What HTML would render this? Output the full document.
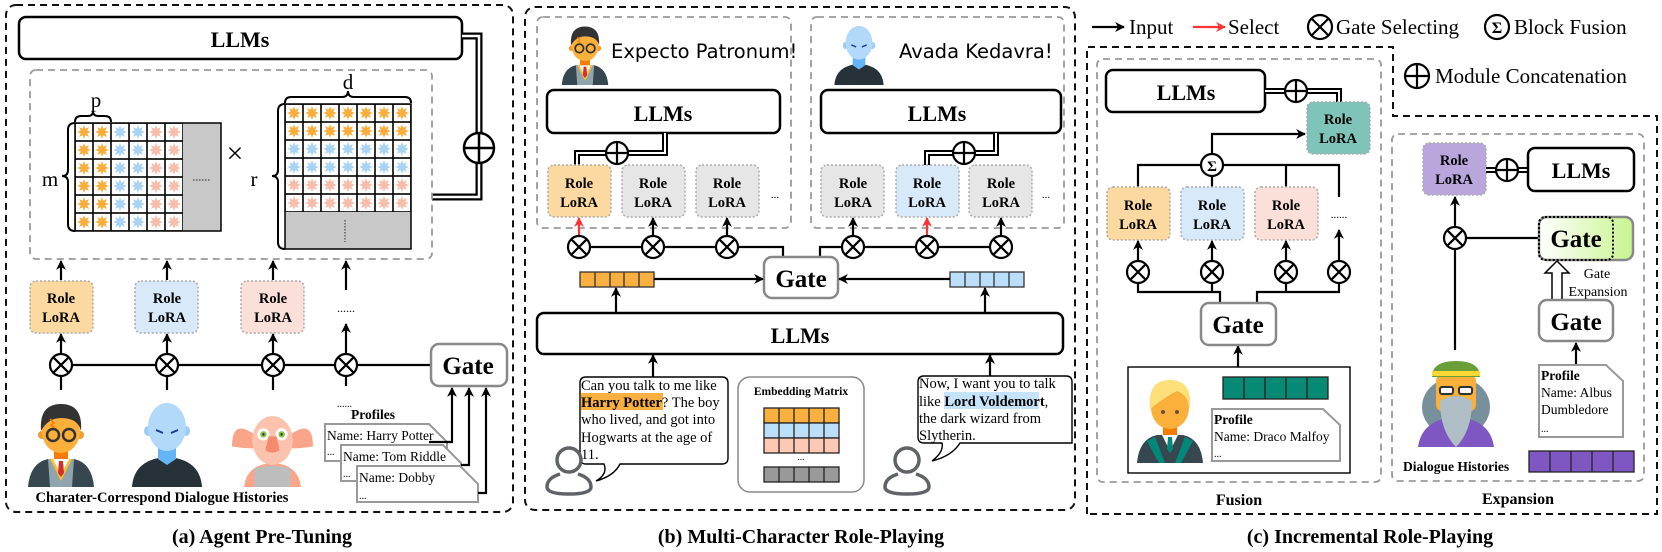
<!DOCTYPE html>
<html><head><meta charset="utf-8"><style>
html,body{margin:0;padding:0;background:#fff;}
svg{display:block;}
text{font-family:"Liberation Serif",serif;}
.b{font-weight:bold;}
</style></head><body>
<svg width="1662" height="552" viewBox="0 0 1662 552" xmlns="http://www.w3.org/2000/svg">
<defs>
<marker id="ah" viewBox="0 0 10 10" refX="9" refY="5" markerWidth="4.5" markerHeight="4.5" orient="auto-start-reverse"><path d="M0,0 L10,5 L0,10 L3,5Z" fill="#000"/></marker>
<marker id="ahr" viewBox="0 0 10 10" refX="9" refY="5" markerWidth="4.5" markerHeight="4.5" orient="auto"><path d="M0,0 L10,5 L0,10 L3,5Z" fill="#f33"/></marker>
<polygon id="star" points="7,0 3.3,1.37 4.95,4.95 1.37,3.3 0,7 -1.37,3.3 -4.95,4.95 -3.3,1.37 -7,0 -3.3,-1.37 -4.95,-4.95 -1.37,-3.3 0,-7 1.37,-3.3 4.95,-4.95 3.3,-1.37"/>
<pattern id="pO" width="18" height="18" patternUnits="userSpaceOnUse"><rect width="18" height="18" fill="#fff" stroke="#000" stroke-width="1.6"/><use href="#star" x="9" y="9" fill="#f9ae3b"/></pattern>
<pattern id="pB" width="18" height="18" patternUnits="userSpaceOnUse"><rect width="18" height="18" fill="#fff" stroke="#000" stroke-width="1.6"/><use href="#star" x="9" y="9" fill="#a8d3f5"/></pattern>
<pattern id="pP" width="18" height="18" patternUnits="userSpaceOnUse"><rect width="18" height="18" fill="#fff" stroke="#000" stroke-width="1.6"/><use href="#star" x="9" y="9" fill="#f8bcaa"/></pattern>
<linearGradient id="gg" x1="0" x2="1" y1="0" y2="0"><stop offset="0" stop-color="#fff"/><stop offset="1" stop-color="#c8f58e"/></linearGradient>
<symbol id="harry" viewBox="0 0 70 88">
<path d="M2,88 Q4,64 22,60 L48,60 Q66,64 68,88Z" fill="#37474f"/>
<path d="M22,60 L48,60 L46,88 L24,88Z" fill="#90a4ae"/>
<path d="M24,60 L35,82 L46,60Z" fill="#fbc02d"/>
<path d="M27,60 L35,76 L43,60Z" fill="#fff"/>
<path d="M33,62 L37,62 L38,74 L35,78 L32,74Z" fill="#d32f2f"/>
<rect x="28" y="46" width="14" height="14" fill="#f57c00"/>
<circle cx="16" cy="36" r="4" fill="#f59b2a"/><circle cx="54" cy="36" r="4" fill="#f59b2a"/>
<ellipse cx="35" cy="33" rx="19" ry="21" fill="#fbb03b"/>
<path d="M15,32 Q13,5 35,5 Q57,5 55,32 Q52,19 35,19 Q22,19 15,32Z" fill="#333"/>
<circle cx="27" cy="36" r="6" fill="none" stroke="#333" stroke-width="2.5"/><circle cx="43" cy="36" r="6" fill="none" stroke="#333" stroke-width="2.5"/>
<path d="M24,20 L28,24 L25,26 L29,29" stroke="#f57c00" stroke-width="1.5" fill="none"/>
</symbol>
<symbol id="vold" viewBox="0 0 70 88">
<path d="M0,88 Q2,60 35,58 Q68,60 70,88Z" fill="#263238"/>
<path d="M26,44 L44,44 L44,60 L35,66 L26,60Z" fill="#64b5f6"/>
<ellipse cx="16" cy="32" rx="4" ry="5" fill="#9ccbf5"/><ellipse cx="54" cy="32" rx="4" ry="5" fill="#9ccbf5"/>
<ellipse cx="35" cy="28" rx="19" ry="24" fill="#b3d9fa"/>
<path d="M24,31 L31,34 M46,31 L39,34" stroke="#1a3a8a" stroke-width="2"/>
</symbol>
<symbol id="dobby" viewBox="0 0 80 80">
<path d="M22,28 Q0,12 0,40 Q12,42 24,42Z" fill="#f9a58a"/><path d="M58,28 Q80,12 80,40 Q68,42 56,42Z" fill="#f9a58a"/>
<path d="M12,80 Q14,58 40,56 Q66,58 68,80Z" fill="#f9a58a"/>
<path d="M22,80 L22,62 Q40,56 58,62 L58,80Z" fill="#bdbdbd"/>
<ellipse cx="40" cy="34" rx="20" ry="24" fill="#fbc3ad"/>
<circle cx="31" cy="28" r="6" fill="#fff"/><circle cx="49" cy="28" r="6" fill="#fff"/>
<circle cx="31" cy="28" r="3.2" fill="#8bc34a"/><circle cx="49" cy="28" r="3.2" fill="#8bc34a"/>
<circle cx="31" cy="28" r="1.2" fill="#333"/><circle cx="49" cy="28" r="1.2" fill="#333"/>
<path d="M36,30 L44,30 L47,44 Q40,48 33,44Z" fill="#f48a6e"/>
</symbol>
<symbol id="draco" viewBox="0 0 70 88">
<path d="M2,88 Q4,64 22,60 L48,60 Q66,64 68,88Z" fill="#37474f"/>
<path d="M20,62 L30,88 L24,88 L12,66Z M50,62 L40,88 L46,88 L58,66Z" fill="#00897b"/>
<path d="M27,60 L35,76 L43,60Z" fill="#fff"/>
<path d="M33,62 L37,62 L38,74 L35,78 L32,74Z" fill="#00897b"/>
<rect x="28" y="46" width="14" height="14" fill="#f57c00"/>
<ellipse cx="35" cy="33" rx="19" ry="21" fill="#fbb03b"/>
<path d="M15,34 Q12,5 35,5 Q58,5 55,34 Q53,20 42,16 Q30,22 15,34Z" fill="#fde07a"/>
<circle cx="28" cy="37" r="2" fill="#6d4c41"/><circle cx="42" cy="37" r="2" fill="#6d4c41"/>
</symbol>
<symbol id="dumb" viewBox="0 0 76 86">
<ellipse cx="38" cy="46" rx="34" ry="30" fill="#78909c"/>
<path d="M0,86 Q4,58 38,56 Q72,58 76,86Z" fill="#7e57c2"/>
<rect x="18" y="14" width="40" height="36" rx="6" fill="#fbb03b"/>
<path d="M14,16 Q14,0 38,0 Q62,0 62,16Z" fill="#689f38"/>
<rect x="14" y="10" width="48" height="5" fill="#fdd835"/>
<rect x="22" y="26" width="13" height="7" rx="2" fill="#fff" stroke="#333" stroke-width="2"/><rect x="41" y="26" width="13" height="7" rx="2" fill="#fff" stroke="#333" stroke-width="2"/>
<path d="M22,40 Q38,30 54,40 Q54,70 38,86 Q22,70 22,40Z" fill="#b0bec5"/>
</symbol>
<symbol id="person" viewBox="0 0 48 52">
<circle cx="24" cy="16" r="12" fill="none" stroke="#5f6368" stroke-width="3.5"/>
<path d="M15,30 Q2,34 2,43 Q2,50 24,50 Q46,50 46,43 Q46,34 33,30" fill="none" stroke="#5f6368" stroke-width="3.5"/>
</symbol>
<g id="ot"><circle r="11" fill="#fff" stroke="#000" stroke-width="2.2"/><path d="M-7.8,-7.8 L7.8,7.8 M-7.8,7.8 L7.8,-7.8" stroke="#000" stroke-width="2.2"/></g>
<g id="op"><circle r="11" fill="#fff" stroke="#000" stroke-width="2.2"/><path d="M-11,0 L11,0 M0,-11 L0,11" stroke="#000" stroke-width="2.2"/></g>
</defs>

<!-- ================= PANEL A ================= -->
<rect x="6" y="5" width="507" height="507" rx="10" fill="none" stroke="#111" stroke-width="2" stroke-dasharray="7 5"/>
<rect x="19" y="17" width="443" height="42" rx="7" fill="#fff" stroke="#000" stroke-width="2.5"/>
<text x="240" y="47" text-anchor="middle" class="b" font-size="22">LLMs</text>
<path d="M462,36 L479,36 L479,197 L432,197" fill="none" stroke="#000" stroke-width="7"/>
<path d="M462,36 L479,36 L479,197 L432,197" fill="none" stroke="#fff" stroke-width="2.5"/>
<g transform="translate(479,148)"><circle r="15" fill="#fff" stroke="#000" stroke-width="2.5"/><path d="M-15,0 L15,0 M0,-15 L0,15" stroke="#000" stroke-width="2.5"/></g>
<rect x="30" y="70" width="402" height="189" rx="6" fill="none" stroke="#999" stroke-width="1.8" stroke-dasharray="7 5"/>
<g transform="translate(75,123)">
<rect x="0" y="0" width="36" height="108" fill="url(#pO)"/>
<rect x="36" y="0" width="36" height="108" fill="url(#pB)"/>
<rect x="72" y="0" width="36" height="108" fill="url(#pP)"/>
<rect x="108" y="0" width="38" height="108" fill="#c8c8c8"/>
<rect x="0" y="0" width="146" height="108" fill="none" stroke="#000" stroke-width="1.5"/>
<path d="M118,57 L136,57" stroke="#444" stroke-width="1.2" stroke-dasharray="1.5 1.5"/>
</g>
<path d="M75,123 Q68,123 68,130 L68,170 Q68,176 62,176 Q68,176 68,182 L68,224 Q68,231 75,231" fill="none" stroke="#000" stroke-width="2"/>
<path d="M75,122 Q75,116 81,116 L88,116 Q93,116 93,111 Q93,116 98,116 L105,116 Q111,116 111,122" fill="none" stroke="#000" stroke-width="2"/>
<text x="96" y="107" text-anchor="middle" font-size="21">p</text>
<text x="50" y="186" text-anchor="middle" font-size="21">m</text>
<text x="235" y="163" text-anchor="middle" font-size="30">×</text>
<g transform="translate(285,104)">
<rect x="0" y="0" width="126" height="36" fill="url(#pO)"/>
<rect x="0" y="36" width="126" height="36" fill="url(#pB)"/>
<rect x="0" y="72" width="126" height="36" fill="url(#pP)"/>
<rect x="0" y="108" width="126" height="37" fill="#c8c8c8"/>
<rect x="0" y="0" width="126" height="145" fill="none" stroke="#000" stroke-width="1.5"/>
<path d="M60,116 L60,138" stroke="#444" stroke-width="1.2" stroke-dasharray="1.5 1.5"/>
</g>
<path d="M285,103 Q285,97 291,97 L342,97 Q348,97 348,91 Q348,97 354,97 L405,97 Q411,97 411,103" fill="none" stroke="#000" stroke-width="2"/>
<path d="M285,104 Q278,104 278,111 L278,170 Q278,176 272,176 Q278,176 278,182 L278,242 Q278,249 285,249" fill="none" stroke="#000" stroke-width="2"/>
<text x="348" y="89" text-anchor="middle" font-size="21">d</text>
<text x="254" y="186" text-anchor="middle" font-size="21">r</text>
<g stroke="#000" stroke-width="2.2" marker-end="url(#ah)">
<line x1="61" y1="280" x2="61" y2="261"/><line x1="167" y1="280" x2="167" y2="261"/><line x1="273" y1="280" x2="273" y2="261"/><line x1="346" y1="290" x2="346" y2="261"/>
</g>
<rect x="30" y="281" width="63" height="52" rx="6" fill="#fcd9a0" stroke="#aaa" stroke-width="1.5" stroke-dasharray="2 2"/>
<rect x="135" y="281" width="63" height="52" rx="6" fill="#d8eafa" stroke="#aaa" stroke-width="1.5" stroke-dasharray="2 2"/>
<rect x="241" y="281" width="63" height="52" rx="6" fill="#fbe0da" stroke="#aaa" stroke-width="1.5" stroke-dasharray="2 2"/>
<g class="b" font-size="14.5" text-anchor="middle">
<text x="61" y="303">Role</text><text x="61" y="322">LoRA</text>
<text x="167" y="303">Role</text><text x="167" y="322">LoRA</text>
<text x="273" y="303">Role</text><text x="273" y="322">LoRA</text>
</g>
<text x="346" y="312" text-anchor="middle" font-size="12">......</text>
<line x1="61" y1="365" x2="430" y2="365" stroke="#000" stroke-width="2.2"/>
<g stroke="#000" stroke-width="2.2">
<line x1="61" y1="365" x2="61" y2="390"/><line x1="167" y1="365" x2="167" y2="390"/><line x1="273" y1="365" x2="273" y2="390"/><line x1="346" y1="365" x2="346" y2="386"/>
</g>
<g stroke="#000" stroke-width="2.2" marker-end="url(#ah)">
<line x1="61" y1="354" x2="61" y2="334"/><line x1="167" y1="354" x2="167" y2="334"/><line x1="273" y1="354" x2="273" y2="334"/><line x1="346" y1="354" x2="346" y2="324"/>
</g>
<use href="#ot" x="61" y="365"/><use href="#ot" x="167" y="365"/><use href="#ot" x="273" y="365"/><use href="#ot" x="346" y="365"/>
<rect x="431" y="344" width="76" height="42" rx="8" fill="#fff" stroke="#888" stroke-width="2.5"/>
<text x="468" y="374" text-anchor="middle" class="b" font-size="25">Gate</text>
<use href="#harry" x="26" y="399" width="70" height="88"/>
<use href="#vold" x="132" y="399" width="70" height="88"/>
<use href="#dobby" x="232" y="406" width="81" height="81"/>
<text x="162" y="502" text-anchor="middle" class="b" font-size="14.5">Charater-Correspond Dialogue Histories</text>
<text x="337" y="407" font-size="10">......</text>
<text x="351" y="419" class="b" font-size="13.5">Profiles</text>
<g fill="#fff" stroke="#999" stroke-width="2">
<path d="M325,424 L429,424 L447,442 L447,461 L325,461Z"/>
<path d="M341,445 L443,445 L461,463 L461,481 L341,481Z"/>
<path d="M357,466 L460,466 L478,484 L478,502 L357,502Z"/>
</g>
<g font-size="13.5">
<text x="327" y="440">Name: Harry Potter</text><text x="327" y="455" font-size="10">...</text>
<text x="343" y="461">Name: Tom Riddle</text><text x="343" y="477" font-size="10">...</text>
<text x="359" y="482">Name: Dobby</text><text x="359" y="499" font-size="10">...</text>
</g>
<g fill="none" stroke="#000" stroke-width="2.2" marker-end="url(#ah)">
<path d="M429,442 L452,442 L452,388"/><path d="M461,465 L469,465 L469,388"/><path d="M478,493 L486,493 L486,388"/>
</g>
<text x="262" y="543" text-anchor="middle" class="b" font-size="20">(a) Agent Pre-Tuning</text>

<!-- ================= PANEL B ================= -->
<rect x="525" y="7" width="550" height="503" rx="10" fill="none" stroke="#111" stroke-width="2" stroke-dasharray="7 5"/>
<rect x="537" y="17" width="254" height="211" rx="6" fill="none" stroke="#999" stroke-width="1.8" stroke-dasharray="7 5"/>
<rect x="811" y="17" width="253" height="211" rx="6" fill="none" stroke="#999" stroke-width="1.8" stroke-dasharray="7 5"/>
<use href="#harry" x="560" y="23" width="50" height="62"/>
<use href="#vold" x="834" y="23" width="50" height="62"/>
<text x="611" y="58" font-size="19.5" style="font-family:'DejaVu Sans',sans-serif">Expecto Patronum!</text>
<text x="899" y="58" font-size="19.5" style="font-family:'DejaVu Sans',sans-serif">Avada Kedavra!</text>
<rect x="547" y="90" width="233" height="43" rx="7" fill="#fff" stroke="#000" stroke-width="2.5"/>
<text x="663" y="121" text-anchor="middle" class="b" font-size="22">LLMs</text>
<rect x="821" y="90" width="240" height="43" rx="7" fill="#fff" stroke="#000" stroke-width="2.5"/>
<text x="937" y="121" text-anchor="middle" class="b" font-size="22">LLMs</text>
<g fill="none">
<path d="M665,133 L665,153 L577,153 L577,165" stroke="#000" stroke-width="6"/>
<path d="M665,133 L665,153 L577,153 L577,165" stroke="#fff" stroke-width="2"/>
<path d="M996,133 L996,153 L927,153 L927,165" stroke="#000" stroke-width="6"/>
<path d="M996,133 L996,153 L927,153 L927,165" stroke="#fff" stroke-width="2"/>
</g>
<use href="#op" x="617" y="153"/><use href="#op" x="964" y="153"/>
<g stroke="#aaa" stroke-width="1.5" stroke-dasharray="2 2">
<rect x="548" y="165" width="63" height="52" rx="6" fill="#fcd9a0"/>
<rect x="622" y="165" width="63" height="52" rx="6" fill="#e6e6e6"/>
<rect x="696" y="165" width="63" height="52" rx="6" fill="#e6e6e6"/>
<rect x="821" y="165" width="63" height="52" rx="6" fill="#e6e6e6"/>
<rect x="896" y="165" width="63" height="52" rx="6" fill="#d8eafa"/>
<rect x="969" y="165" width="63" height="52" rx="6" fill="#e6e6e6"/>
</g>
<g class="b" font-size="14.5" text-anchor="middle">
<text x="579" y="188">Role</text><text x="579" y="207">LoRA</text>
<text x="653" y="188">Role</text><text x="653" y="207">LoRA</text>
<text x="727" y="188">Role</text><text x="727" y="207">LoRA</text>
<text x="853" y="188">Role</text><text x="853" y="207">LoRA</text>
<text x="927" y="188">Role</text><text x="927" y="207">LoRA</text>
<text x="1001" y="188">Role</text><text x="1001" y="207">LoRA</text>
</g>
<text x="775" y="198" text-anchor="middle" font-size="11">...</text>
<text x="1046" y="198" text-anchor="middle" font-size="11">...</text>
<path d="M579,247 L783,247 L783,257 M820,257 L820,247 L1001,247" fill="none" stroke="#000" stroke-width="2.2"/>
<g stroke="#000" stroke-width="2.2" marker-end="url(#ah)">
<line x1="653" y1="237" x2="653" y2="218"/><line x1="727" y1="237" x2="727" y2="218"/><line x1="853" y1="237" x2="853" y2="218"/><line x1="1001" y1="237" x2="1001" y2="218"/>
</g>
<g stroke="#f33" stroke-width="2.2" marker-end="url(#ahr)">
<line x1="579" y1="237" x2="579" y2="218"/><line x1="927" y1="237" x2="927" y2="218"/>
</g>
<use href="#ot" x="579" y="247"/><use href="#ot" x="653" y="247"/><use href="#ot" x="727" y="247"/>
<use href="#ot" x="853" y="247"/><use href="#ot" x="927" y="247"/><use href="#ot" x="1001" y="247"/>
<rect x="764" y="257" width="74" height="41" rx="8" fill="#fff" stroke="#888" stroke-width="2.5"/>
<text x="801" y="287" text-anchor="middle" class="b" font-size="25">Gate</text>
<g stroke="#333" stroke-width="1.3">
<rect x="580" y="272" width="74" height="15" fill="#f9b040"/>
<path d="M595,272 V287 M610,272 V287 M624,272 V287 M639,272 V287"/>
<rect x="950" y="272" width="74" height="15" fill="#bcdff9"/>
<path d="M965,272 V287 M980,272 V287 M994,272 V287 M1009,272 V287"/>
</g>
<g stroke="#000" stroke-width="2.2" marker-end="url(#ah)">
<line x1="654" y1="279" x2="763" y2="279"/><line x1="950" y1="279" x2="839" y2="279"/>
<line x1="616" y1="313" x2="616" y2="288"/><line x1="985" y1="313" x2="985" y2="288"/>
<line x1="653" y1="377" x2="653" y2="355"/><line x1="990" y1="376" x2="990" y2="355"/>
</g>
<rect x="537" y="313" width="526" height="41" rx="7" fill="#fff" stroke="#000" stroke-width="2.5"/>
<text x="800" y="343" text-anchor="middle" class="b" font-size="22">LLMs</text>
<path d="M586,377 L722,377 Q728,377 728,383 L728,458 Q728,464 722,464 L620,464 Q614,476 596,481 Q608,474 604,464 L586,464 Q580,464 580,458 L580,383 Q580,377 586,377Z" fill="#fff" stroke="#000" stroke-width="1.4"/>
<rect x="581" y="393" width="82" height="17" fill="#f9b040"/>
<g font-size="14.5">
<text x="581" y="390">Can you talk to me like</text>
<text x="581" y="407"><tspan font-weight="bold">Harry Potter</tspan>? The boy</text>
<text x="581" y="424">who lived, and got into</text>
<text x="581" y="442">Hogwarts at the age of</text>
<text x="581" y="459">11.</text>
</g>
<use href="#person" x="545" y="444" width="48" height="52"/>
<rect x="738" y="377" width="126" height="115" rx="12" fill="#fff" stroke="#888" stroke-width="1.5"/>
<text x="801" y="395" text-anchor="middle" class="b" font-size="11.5">Embedding Matrix</text>
<g stroke="#222" stroke-width="1.3">
<rect x="764" y="408" width="75" height="15" fill="#f9b040"/>
<rect x="764" y="423" width="75" height="15" fill="#bcdff9"/>
<rect x="764" y="438" width="75" height="15" fill="#fdc9b5"/>
<rect x="764" y="467" width="75" height="15" fill="#999"/>
<path d="M779,408 V453 M794,408 V453 M809,408 V453 M824,408 V453 M779,467 V482 M794,467 V482 M809,467 V482 M824,467 V482"/>
</g>
<text x="801" y="460" text-anchor="middle" font-size="9">...</text>
<path d="M924,376 L1066,376 Q1072,376 1072,382 L1072,443 L960,443 Q952,456 932,461 Q944,452 942,443 L924,443 Q918,443 918,437 L918,382 Q918,376 924,376Z" fill="#fff" stroke="#000" stroke-width="1.4"/>
<rect x="944" y="392" width="95" height="17" fill="#c5e3fa"/>
<g font-size="14.5">
<text x="919" y="388">Now, I want you to talk</text>
<text x="919" y="406">like <tspan font-weight="bold">Lord Voldemort</tspan>,</text>
<text x="919" y="423">the dark wizard from</text>
<text x="919" y="440">Slytherin.</text>
</g>
<use href="#person" x="883" y="444" width="48" height="52"/>
<text x="801" y="543" text-anchor="middle" class="b" font-size="20">(b) Multi-Character Role-Playing</text>

<!-- ================= LEGEND ================= -->
<line x1="1092" y1="27" x2="1124" y2="27" stroke="#000" stroke-width="2.2" marker-end="url(#ah)"/>
<text x="1129" y="34" font-size="21">Input</text>
<line x1="1193" y1="27" x2="1225" y2="27" stroke="#f33" stroke-width="2.2" marker-end="url(#ahr)"/>
<text x="1228" y="34" font-size="21">Select</text>
<g transform="translate(1320,27)"><circle r="12" fill="#fff" stroke="#000" stroke-width="2.2"/><path d="M-8.5,-8.5 L8.5,8.5 M-8.5,8.5 L8.5,-8.5" stroke="#000" stroke-width="2.2"/></g>
<text x="1336" y="34" font-size="21">Gate Selecting</text>
<circle cx="1497" cy="27" r="12" fill="#fff" stroke="#000" stroke-width="2.2"/>
<text x="1497" y="33" text-anchor="middle" class="b" font-size="16">Σ</text>
<text x="1514" y="34" font-size="21">Block Fusion</text>
<g transform="translate(1417,76)"><circle r="12" fill="#fff" stroke="#000" stroke-width="2.2"/><path d="M-12,0 L12,0 M0,-12 L0,12" stroke="#000" stroke-width="2.2"/></g>
<text x="1435" y="83" font-size="21">Module Concatenation</text>

<!-- ================= PANEL C ================= -->
<path d="M1087,514 L1087,47 L1393,47 L1393,116 L1657,116 L1657,514 Z" fill="none" stroke="#111" stroke-width="2" stroke-dasharray="7 5"/>
<rect x="1097" y="59" width="284" height="423" rx="6" fill="none" stroke="#999" stroke-width="1.8" stroke-dasharray="7 5"/>
<rect x="1392" y="134" width="252" height="347" rx="6" fill="none" stroke="#999" stroke-width="1.8" stroke-dasharray="7 5"/>
<rect x="1106" y="70" width="159" height="42" rx="7" fill="#fff" stroke="#000" stroke-width="2.5"/>
<text x="1186" y="100" text-anchor="middle" class="b" font-size="22">LLMs</text>
<path d="M1265,91 L1339,91 L1339,102" fill="none" stroke="#000" stroke-width="6"/>
<path d="M1265,91 L1339,91 L1339,102" fill="none" stroke="#fff" stroke-width="2"/>
<use href="#op" x="1296" y="91"/>
<rect x="1307" y="102" width="63" height="52" rx="6" fill="#7fc4b8" stroke="#aaa" stroke-width="1.5" stroke-dasharray="2 2"/>
<g class="b" font-size="14.5" text-anchor="middle">
<text x="1338" y="124">Role</text><text x="1338" y="143">LoRA</text>
</g>
<path d="M1212,165 L1212,134 L1305,134" fill="none" stroke="#000" stroke-width="2.2" marker-end="url(#ah)"/>
<path d="M1138,187 L1138,165 L1339,165 L1339,197 M1212,165 L1212,187 M1286,165 L1286,187" fill="none" stroke="#000" stroke-width="2.2"/>
<circle cx="1212" cy="165" r="11" fill="#fff" stroke="#000" stroke-width="2.2"/>
<text x="1212" y="171" text-anchor="middle" class="b" font-size="15">Σ</text>
<g stroke="#aaa" stroke-width="1.5" stroke-dasharray="2 2">
<rect x="1107" y="187" width="63" height="53" rx="6" fill="#fcd9a0"/>
<rect x="1181" y="187" width="63" height="53" rx="6" fill="#d8eafa"/>
<rect x="1255" y="187" width="63" height="53" rx="6" fill="#fbe0da"/>
</g>
<g class="b" font-size="14.5" text-anchor="middle">
<text x="1138" y="210">Role</text><text x="1138" y="229">LoRA</text>
<text x="1212" y="210">Role</text><text x="1212" y="229">LoRA</text>
<text x="1286" y="210">Role</text><text x="1286" y="229">LoRA</text>
</g>
<text x="1339" y="218" text-anchor="middle" font-size="11">......</text>
<path d="M1138,272 L1138,292 L1220,292 L1220,303 M1257,303 L1257,292 L1339,292 L1339,272 M1212,272 L1212,292 M1286,272 L1286,292" fill="none" stroke="#000" stroke-width="2.2"/>
<g stroke="#000" stroke-width="2.2" marker-end="url(#ah)">
<line x1="1138" y1="262" x2="1138" y2="241"/><line x1="1212" y1="262" x2="1212" y2="241"/><line x1="1286" y1="262" x2="1286" y2="241"/><line x1="1339" y1="262" x2="1339" y2="230"/>
<line x1="1238" y1="367" x2="1238" y2="346"/>
</g>
<use href="#ot" x="1138" y="272"/><use href="#ot" x="1212" y="272"/><use href="#ot" x="1286" y="272"/><use href="#ot" x="1339" y="272"/>
<rect x="1201" y="303" width="75" height="42" rx="8" fill="#fff" stroke="#888" stroke-width="2.5"/>
<text x="1238" y="333" text-anchor="middle" class="b" font-size="25">Gate</text>
<rect x="1128" y="367" width="222" height="106" fill="#fff" stroke="#000" stroke-width="1.4"/>
<use href="#draco" x="1135" y="375" width="70" height="88"/>
<g stroke="#222" stroke-width="1.3">
<rect x="1223" y="377" width="105" height="22" fill="#068a73"/>
<path d="M1244,377 V399 M1265,377 V399 M1286,377 V399 M1307,377 V399"/>
</g>
<path d="M1212,409 L1323,409 L1340,425 L1340,461 L1212,461Z" fill="#fff" stroke="#999" stroke-width="2"/>
<text x="1214" y="424" class="b" font-size="13.5">Profile</text>
<text x="1214" y="441" font-size="13.5">Name: Draco Malfoy</text>
<text x="1214" y="457" font-size="10">...</text>
<text x="1239" y="505" text-anchor="middle" class="b" font-size="16">Fusion</text>
<rect x="1423" y="143" width="63" height="52" rx="6" fill="#b9a6dd" stroke="#aaa" stroke-width="1.5" stroke-dasharray="2 2"/>
<g class="b" font-size="14.5" text-anchor="middle">
<text x="1454" y="165">Role</text><text x="1454" y="184">LoRA</text>
</g>
<path d="M1486,170 L1528,170" stroke="#000" stroke-width="6"/>
<path d="M1486,170 L1528,170" stroke="#fff" stroke-width="2"/>
<use href="#op" x="1507" y="170"/>
<rect x="1528" y="148" width="106" height="43" rx="7" fill="#fff" stroke="#000" stroke-width="2.5"/>
<text x="1581" y="178" text-anchor="middle" class="b" font-size="22">LLMs</text>
<line x1="1455" y1="350" x2="1455" y2="197" stroke="#000" stroke-width="2.2" marker-end="url(#ah)"/>
<line x1="1455" y1="238" x2="1539" y2="238" stroke="#000" stroke-width="2.2"/>
<use href="#ot" x="1455" y="238"/>
<rect x="1539" y="217" width="94" height="43" rx="8" fill="url(#gg)" stroke="#888" stroke-width="2.5"/>
<rect x="1539" y="217" width="74" height="43" rx="6" fill="none" stroke="#000" stroke-width="2" stroke-dasharray="2 2"/>
<text x="1576" y="247" text-anchor="middle" class="b" font-size="25">Gate</text>
<path d="M1552,300 L1552,273 L1545,273 L1557,261 L1569,273 L1562,273 L1562,300Z" fill="#fff" stroke="#000" stroke-width="1.5"/>
<text x="1597" y="278" text-anchor="middle" font-size="14">Gate</text>
<text x="1598" y="296" text-anchor="middle" font-size="14">Expansion</text>
<rect x="1539" y="300" width="74" height="41" rx="8" fill="#fff" stroke="#888" stroke-width="2.5"/>
<text x="1576" y="330" text-anchor="middle" class="b" font-size="25">Gate</text>
<line x1="1576" y1="366" x2="1576" y2="343" stroke="#000" stroke-width="2.2" marker-end="url(#ah)"/>
<use href="#dumb" x="1418" y="361" width="76" height="86"/>
<path d="M1539,365 L1606,365 L1623,381 L1623,437 L1539,437Z" fill="#fff" stroke="#999" stroke-width="2"/>
<text x="1541" y="380" class="b" font-size="13.5">Profile</text>
<text x="1541" y="397" font-size="13.5">Name: Albus</text>
<text x="1541" y="414" font-size="13.5">Dumbledore</text>
<text x="1541" y="432" font-size="10">...</text>
<text x="1403" y="471" class="b" font-size="13.5">Dialogue Histories</text>
<g stroke="#222" stroke-width="1.3">
<rect x="1529" y="451" width="105" height="21" fill="#7e57c2"/>
<path d="M1550,451 V472 M1571,451 V472 M1592,451 V472 M1613,451 V472"/>
</g>
<text x="1518" y="504" text-anchor="middle" class="b" font-size="16">Expansion</text>
<text x="1370" y="543" text-anchor="middle" class="b" font-size="20">(c) Incremental Role-Playing</text>
</svg>
</body></html>
